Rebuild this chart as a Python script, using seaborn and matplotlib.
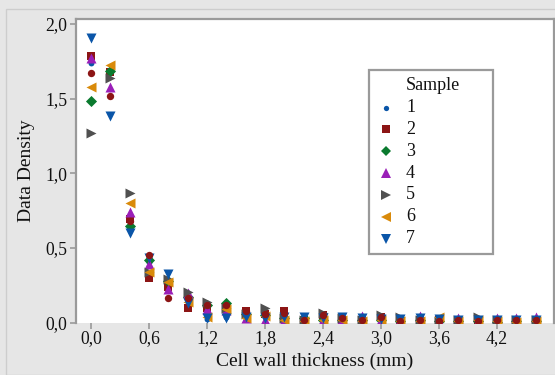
import numpy as np
import pandas as pd
import matplotlib
matplotlib.use("Agg")
import matplotlib.pyplot as plt
from matplotlib.ticker import FuncFormatter
from matplotlib.lines import Line2D
from matplotlib.patches import Rectangle
import seaborn as sns

sns.set_style("white")
plt.rcParams["font.family"] = ["Liberation Serif", "DejaVu Serif"]

# Cell wall thickness bins (mm)
thickness = [0.0, 0.2, 0.4, 0.6, 0.8, 1.0, 1.2, 1.4, 1.6, 1.8, 2.0, 2.2,
             2.4, 2.6, 2.8, 3.0, 3.2, 3.4, 3.6, 3.8, 4.0, 4.2, 4.4, 4.6]

# Density per sample
s1 = [1.741, 1.670, 0.631, 0.408, 0.270, 0.120, 0.025, 0.040, 0.055, 0.040, 0.030, 0.020,
      0.020, 0.015, 0.020, 0.015, 0.010, 0.015, 0.010, 0.010, 0.005, 0.010, 0.005, 0.010]
s2 = [1.788, 1.680, 0.692, 0.296, 0.240, 0.095, 0.099, 0.100, 0.077, 0.060, 0.077, 0.020,
      0.050, 0.020, 0.020, 0.040, 0.020, 0.015, 0.020, 0.010, 0.010, 0.010, 0.020, 0.010]
s3 = [1.487, 1.688, 0.649, 0.420, 0.280, 0.173, 0.117, 0.129, 0.060, 0.050, 0.030, 0.030,
      0.020, 0.020, 0.015, 0.020, 0.010, 0.015, 0.010, 0.010, 0.010, 0.005, 0.010, 0.010]
s4 = [1.775, 1.580, 0.739, 0.390, 0.225, 0.196, 0.090, 0.084, 0.030, 0.018, 0.020, 0.020,
      0.020, 0.025, 0.045, 0.020, 0.015, 0.045, 0.010, 0.030, 0.010, 0.030, 0.030, 0.040]
s5 = [1.268, 1.637, 0.866, 0.336, 0.292, 0.207, 0.139, 0.100, 0.060, 0.095, 0.030, 0.020,
      0.066, 0.030, 0.020, 0.050, 0.040, 0.020, 0.010, 0.020, 0.035, 0.015, 0.020, 0.015]
s6 = [1.580, 1.726, 0.799, 0.340, 0.269, 0.140, 0.039, 0.090, 0.027, 0.045, 0.020, 0.010,
      0.020, 0.020, 0.010, 0.020, 0.010, 0.010, 0.040, 0.010, 0.020, 0.010, 0.005, 0.010]
s7 = [1.909, 1.386, 0.602, 0.430, 0.323, 0.129, 0.028, 0.028, 0.040, 0.028, 0.039, 0.035,
      0.030, 0.035, 0.030, 0.025, 0.025, 0.030, 0.025, 0.020, 0.020, 0.020, 0.020, 0.020]
s8 = [1.674, 1.520, 0.680, 0.452, 0.166, 0.166, 0.117, 0.117, 0.075, 0.060, 0.065, 0.020,
      0.050, 0.030, 0.020, 0.040, 0.010, 0.020, 0.010, 0.020, 0.010, 0.020, 0.020, 0.020]

samples = ["1", "2", "3", "4", "5", "6", "7", "8"]
series = [s1, s2, s3, s4, s5, s6, s7, s8]
legend_samples = ["1", "2", "3", "4", "5", "6", "7"]

colors = {"1": "#0a55a8", "2": "#8c1515", "3": "#0a7a2e", "4": "#9a1fb8",
          "5": "#505050", "6": "#d98a0a", "7": "#0a55a8", "8": "#8c1515"}
markers = {"1": "o", "2": "s", "3": "D", "4": "^", "5": ">", "6": "<", "7": "v", "8": "o"}
sizes = {"1": 18, "2": 36, "3": 32, "4": 52, "5": 52, "6": 52, "7": 52, "8": 28}

df = pd.DataFrame({
    "thickness": np.tile(thickness, len(samples)),
    "density": np.concatenate(series),
    "Sample": np.repeat(samples, len(thickness)),
})

W, H = 555, 375
bg = "#e6e6e6"
fig = plt.figure(figsize=(W / 100, H / 100), dpi=100, facecolor=bg)

# outer panel frame
fig.add_artist(Rectangle((5.5 / W, 0), 1, 1 - 8.5 / H, transform=fig.transFigure,
                         facecolor="none", edgecolor="#cdcdcd", linewidth=1.0))

ax = fig.add_axes([75.5 / W, 52.5 / H, (554 - 75.5) / W, (322.5 - 19) / H])
ax.set_facecolor("white")

for s in samples:
    sub = df[df["Sample"] == s]
    sns.scatterplot(data=sub, x="thickness", y="density", ax=ax,
                    color=colors[s], marker=markers[s], s=sizes[s],
                    linewidth=0, legend=False, zorder=3)

ax.set_xlim(-0.162, 4.79)
ax.set_ylim(0, 2.034)
ax.set_xticks([0.0, 0.6, 1.2, 1.8, 2.4, 3.0, 3.6, 4.2])
ax.set_yticks([0.0, 0.5, 1.0, 1.5, 2.0])
comma = FuncFormatter(lambda v, p: f"{v:.1f}".replace(".", ","))
ax.xaxis.set_major_formatter(comma)
ax.yaxis.set_major_formatter(comma)
ax.tick_params(axis="both", which="major", length=4, width=1.2, color="#9a9a9a",
               labelsize=12.7, labelcolor="#111111", direction="out")
ax.tick_params(axis="x", bottom=True, top=False, pad=1.5)
ax.tick_params(axis="y", left=True, right=False, pad=2)

for side in ["left", "top", "right"]:
    ax.spines[side].set_visible(True)
    ax.spines[side].set_color("#9a9a9a")
    ax.spines[side].set_linewidth(1.6)
ax.spines["bottom"].set_visible(False)

ax.set_xlabel("Cell wall thickness (mm)", fontsize=14, color="#111111", labelpad=4)
ax.set_ylabel("Data Density", fontsize=14, color="#111111", labelpad=7)

# legend panel
fig.add_artist(Rectangle((368.5 / W, 1 - 254 / H), 124 / W, 184 / H,
                         transform=fig.transFigure, facecolor="white",
                         edgecolor="#9a9a9a", linewidth=1.6, zorder=5))
fig.text(406 / W, 1 - 85 / H, "Sample", fontsize=13, color="#111111",
         ha="left", va="center", zorder=6)
row_y = [107.7, 129.5, 151.3, 173.1, 194.9, 216.7, 238.5]
for s, yy in zip(legend_samples, row_y):
    fig.add_artist(Line2D([386 / W], [1 - yy / H], transform=fig.transFigure,
                          linestyle="none", marker=markers[s], color=colors[s],
                          markersize=np.sqrt(sizes[s]) * 0.9, markeredgewidth=0,
                          zorder=6))
    fig.text(406 / W, 1 - yy / H, s, fontsize=13, color="#111111",
             ha="left", va="center", zorder=6)

fig.savefig("out.png", dpi=100, facecolor=bg)
